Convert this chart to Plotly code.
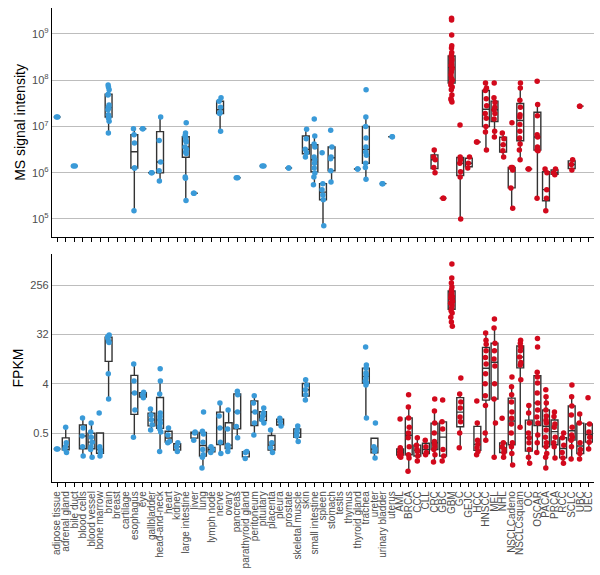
import plotly.graph_objects as go
from plotly.subplots import make_subplots

tissues = ["adipose tissue", "adrenal gland", "bile duct", "blood cells", "blood vessel",
           "bone marrow", "brain", "breast", "cartilage", "esophagus", "eye", "gallbladder",
           "head-and-neck", "heart", "kidney", "large intestine", "liver", "lung",
           "lymph node", "nerve", "ovary", "pancreas", "parathyroid gland", "peritoneum",
           "pituitary", "placenta", "pleura", "prostate", "skeletal muscle", "skin",
           "small intestine", "spleen", "stomach", "testis", "thymus", "thyroid gland",
           "trachea", "ureter", "urinary bladder", "uterus"]
cancers = ["AML", "BRCA", "CCC", "CLL", "CRC", "GBC", "GBM", "GC", "GEJC", "HCC", "HNSCC",
           "MEL", "NHL", "NSCLCadeno", "NSCLCsquam", "OC", "OSCAR", "PACA", "PRCA", "RCC",
           "SCLC", "UBC", "UEC"]

# MS signal intensity, one list per tissue (same order as `tissues`)
ms_tissue = [
    [1.6e7, 1.6e7], [], [1.4e6, 1.4e6], [], [], [],
    [7.9e7, 7.1e7, 6.2e7, 5.0e7, 4.8e7, 2.9e7, 2.6e7, 2.5e7, 2.3e7, 1.8e7, 1.6e7, 1.5e7, 1.3e7, 7.2e6],
    [], [],
    [8.9e6, 6.6e6, 4.4e6, 1.26e6, 1.26e6, 1.5e5],
    [8.9e6, 8.9e6], [1.0e6, 1.0e6],
    [1.6e7, 5.0e6, 1.7e6, 1.1e6, 6.6e5],
    [], [],
    [1.2e7, 7.2e6, 6.3e6, 5.9e6, 5.0e6, 4.6e6, 3.6e6, 3.2e6, 2.8e6, 2.6e6, 8.1e5, 7.6e5, 2.5e5],
    [3.6e5, 3.6e5], [], [],
    [4.2e7, 3.5e7, 2.6e7, 2.0e7, 1.9e7, 7.9e6],
    [], [7.8e5, 7.8e5], [], [], [1.4e6, 1.4e6], [], [], [1.26e6, 1.26e6], [],
    [8.7e6, 5.4e6, 3.2e6, 2.7e6, 2.2e6],
    [1.45e7, 6.2e6, 4.2e6, 3.6e6, 2.2e6, 1.9e6, 1.6e6, 1.26e6, 9.8e5, 8.1e5, 5.5e5],
    [2.7e6, 5.8e5, 4.3e5, 3.3e5, 2.6e5, 7.1e4],
    [8.3e6, 3.6e6, 2.2e6, 2.0e6, 1.1e6, 6.3e5],
    [], [], [1.2e6, 1.2e6],
    [6.2e7, 1.6e7, 1.0e7, 5.6e6, 3.6e6, 2.8e6, 2.4e6, 1.6e6, 1.3e6, 7.2e5],
    [], [5.8e5, 5.8e5], [6.0e6, 6.0e6],
]

# MS signal intensity, one list per cancer type (same order as `cancers`)
ms_cancer = [
    [], [], [], [],
    [3.1e6, 2.2e6, 1.9e6, 1.3e6, 1.0e6],
    [2.8e5, 2.8e5],
    [2.2e9, 2.0e9, 9.5e8, 5.6e8, 5.0e8, 4.0e8, 3.5e8, 3.3e8, 3.0e8, 2.75e8, 2.5e8, 2.2e8, 2.1e8,
     2.0e8, 1.9e8, 1.8e8, 1.7e8, 1.5e8, 1.3e8, 1.1e8, 1.0e8, 8.9e7, 7.9e7, 7.1e7, 6.2e7, 4.8e7,
     4.0e7, 3.7e7, 3.4e7],
    [1.07e7, 2.2e6, 1.9e6, 1.6e6, 1.05e6, 8.1e5, 1.0e5],
    [2.2e6, 1.6e6, 1.26e6],
    [4.6e6, 4.6e6],
    [8.7e7, 6.8e7, 6.0e7, 4.0e7, 2.8e7, 1.9e7, 1.5e7, 1.0e7, 7.6e6, 3.1e6],
    [8.7e7, 4.2e7, 3.3e7, 2.6e7, 2.3e7, 1.9e7, 1.45e7, 7.9e6, 5.9e6],
    [7.2e6, 5.4e6, 4.0e6, 3.0e6, 2.2e6],
    [1.2e7, 1.3e6, 1.3e6, 1.15e6, 4.7e5, 1.7e5],
    [8.7e7, 6.8e7, 3.7e7, 2.6e7, 1.8e7, 1.6e7, 1.1e7, 7.9e6, 5.6e6, 4.2e6, 3.1e6, 1.9e6],
    [1.2e6, 1.2e6],
    [9.5e7, 3.0e7, 1.7e7, 6.6e6, 5.9e6, 3.6e6, 3.1e6, 3.0e6, 2.8e5],
    [1.2e6, 1.0e6, 4.3e5, 2.8e5, 1.5e5],
    [1.2e6, 1.0e6, 9.0e5],
    [],
    [1.9e6, 1.5e6, 1.15e6],
    [2.75e7, 2.75e7],
    [],
]

# FPKM, one list per tissue
fpkm_tissue = [
    [0.255, 0.255],
    [0.64, 0.33, 0.28, 0.255, 0.22],
    [],
    [0.94, 0.62, 0.44, 0.28, 0.19],
    [0.76, 0.52, 0.42, 0.34, 0.28, 0.25, 0.18],
    [1.16, 0.28, 0.25, 0.22, 0.19],
    [31, 29, 27, 24, 22.6, 6.1, 2.1],
    [], [],
    [9.2, 4.5, 2.7, 1.32, 0.42],
    [2.8, 2.5, 2.2],
    [1.38, 1.07, 0.87, 0.71, 0.57],
    [7.5, 4.5, 2.6, 1.16, 1.0, 0.87, 0.76, 0.66, 0.59, 0.52, 0.23],
    [0.62, 0.46, 0.35, 0.33],
    [0.33, 0.28, 0.23],
    [],
    [0.52, 0.5, 0.37],
    [1.21, 0.54, 0.48, 0.34, 0.25, 0.2, 0.18, 0.114],
    [0.28, 0.25, 0.22],
    [1.77, 1.02, 0.62, 0.34, 0.21],
    [1.32, 0.59, 0.3, 0.27, 0.23],
    [2.9, 2.5, 1.21, 0.66, 0.41],
    [0.23, 0.22, 0.17],
    [2.4, 1.77, 1.21, 0.76, 0.46],
    [1.43, 1.16, 1.02, 0.87, 0.76],
    [0.57, 0.33, 0.27, 0.22],
    [0.93, 0.8, 0.67],
    [],
    [0.67, 0.57, 0.5, 0.44, 0.35],
    [4.7, 3.8, 3.1, 2.5, 2.0],
    [], [], [], [], [], [],
    [18.8, 8.8, 7.7, 6.3, 5.8, 5.1, 4.5, 4.1, 3.8, 0.94],
    [0.76, 0.28, 0.255, 0.23, 0.175],
    [], [],
]

# FPKM, one list per cancer type
fpkm_cancer = [
    [0.9, 0.27, 0.25, 0.23, 0.225, 0.22, 0.2, 0.19, 0.18],
    [2.5, 1.5, 0.94, 0.64, 0.5, 0.41, 0.28, 0.2, 0.175, 0.1],
    [0.41, 0.3, 0.25, 0.23, 0.19, 0.154],
    [0.37, 0.28, 0.22, 0.2],
    [2.1, 1.27, 0.76, 0.5, 0.35, 0.31, 0.28, 0.25, 0.2, 0.148],
    [2.0, 0.8, 0.59, 0.25, 0.19, 0.154],
    [622, 345, 278, 236, 208, 191, 181, 168, 158, 148, 136, 128, 119, 108, 97, 87, 79, 66, 54, 45],
    [5.1, 2.6, 1.85, 1.43, 0.98, 0.8, 0.5, 0.27],
    [],
    [1.93, 0.76, 0.37, 0.31, 0.27, 0.23, 0.2],
    [34, 25, 21, 16, 12, 9.2, 6.1, 4.0, 2.4, 1.6, 0.5, 0.37],
    [61, 42, 22, 16, 11.3, 8.4, 4.0, 2.1, 0.76, 0.18],
    [0.93, 0.33, 0.28, 0.25, 0.22, 0.18],
    [5.3, 3.5, 2.5, 1.85, 1.21, 0.93, 0.73, 0.5, 0.33, 0.28, 0.21, 0.13],
    [25, 22, 18.8, 16, 12.3, 9.8, 8.8, 4.7, 0.64],
    [1.6, 1.16, 0.76, 0.5, 0.41, 0.33, 0.25, 0.18, 0.14],
    [27, 18.8, 6.5, 5.3, 4.1, 2.7, 1.77, 1.32, 0.98, 0.76, 0.46, 0.33, 0.22],
    [3.1, 2.3, 1.77, 1.32, 1.02, 0.86, 0.76, 0.57, 0.42, 0.33, 0.28, 0.21, 0.18, 0.114],
    [1.21, 1.0, 0.73, 0.64, 0.42, 0.33, 0.28, 0.175],
    [0.5, 0.41, 0.3, 0.22, 0.175, 0.14],
    [3.8, 2.3, 1.56, 1.07, 0.64, 0.46, 0.42, 0.37, 0.28, 0.167],
    [1.12, 0.76, 0.33, 0.25, 0.21, 0.167],
    [2.2, 0.73, 0.52, 0.42, 0.34, 0.255],
]

ms_ticks = [1e5, 1e6, 1e7, 1e8, 1e9]
ms_ticktext = ["10<sup>5</sup>", "10<sup>6</sup>", "10<sup>7</sup>", "10<sup>8</sup>", "10<sup>9</sup>"]
fpkm_ticks = [0.5, 4, 32, 256]
fpkm_ticktext = ["0.5", "4", "32", "256"]

categories = tissues + cancers
BLUE = "#3a9ad8"
RED = "#d2091c"
FONT = "Liberation Sans, Arial, sans-serif"


def flatten(groups, offset):
    xs, ys = [], []
    for i, vals in enumerate(groups):
        for v in vals:
            xs.append(i + offset)
            ys.append(v)
    return xs, ys


fig = make_subplots(rows=2, cols=1)

panels = [(ms_tissue, ms_cancer, 1), (fpkm_tissue, fpkm_cancer, 2)]
for tdata, cdata, row in panels:
    for groups, offset, color in [(tdata, 0, BLUE), (cdata, len(tissues), RED)]:
        xs, ys = flatten(groups, offset)
        fig.add_trace(go.Box(
            x=xs, y=ys, boxpoints="all", jitter=0.3, pointpos=0, width=0.8,
            fillcolor="rgba(255,255,255,0)",
            line=dict(color="#333333", width=1.4),
            marker=dict(color=color, size=5.5, opacity=1, line=dict(width=0)),
            whiskerwidth=0, showlegend=False, hoverinfo="skip",
        ), row=row, col=1)

axis_common = dict(showline=True, linecolor="black", linewidth=1.3, zeroline=False,
                   automargin=False)
xcommon = dict(axis_common, range=[-0.6, len(categories) - 0.4],
               tickvals=list(range(len(categories))), ticktext=categories,
               ticks="outside", ticklen=4, tickcolor="black", tickwidth=1,
               showgrid=False)

fig.update_layout(
    width=600, height=575,
    margin=dict(l=52, r=6, t=8, b=93),
    plot_bgcolor="white", paper_bgcolor="white",
    font=dict(family=FONT, color="black"),
    boxmode="overlay", hovermode=False,
    xaxis=dict(xcommon, showticklabels=False, anchor="y"),
    xaxis2=dict(xcommon, showticklabels=True, tickangle=-90,
                tickfont=dict(size=10, color="#4d4d4d", family=FONT), anchor="y2"),
    yaxis=dict(axis_common, type="log", domain=[0.517, 1.0], range=[4.611, 9.562],
               tickvals=ms_ticks, ticktext=ms_ticktext, ticks="",
               showgrid=True, gridcolor="#bdbdbd", gridwidth=1,
               tickfont=dict(size=11, color="#4d4d4d"),
               title=dict(text="MS signal intensity", font=dict(size=14, color="black"), standoff=3)),
    yaxis2=dict(axis_common, type="log", domain=[0.0, 0.481], range=[-1.198, 2.976],
                tickvals=fpkm_ticks, ticktext=fpkm_ticktext, ticks="",
                showgrid=True, gridcolor="#bdbdbd", gridwidth=1,
                tickfont=dict(size=11, color="#4d4d4d"),
                title=dict(text="FPKM", font=dict(size=14, color="black"), standoff=3)),
)

fig.write_html("out.html", config={"displayModeBar": False},
               post_script="document.body.style.margin='0';document.body.style.overflow='hidden';")
